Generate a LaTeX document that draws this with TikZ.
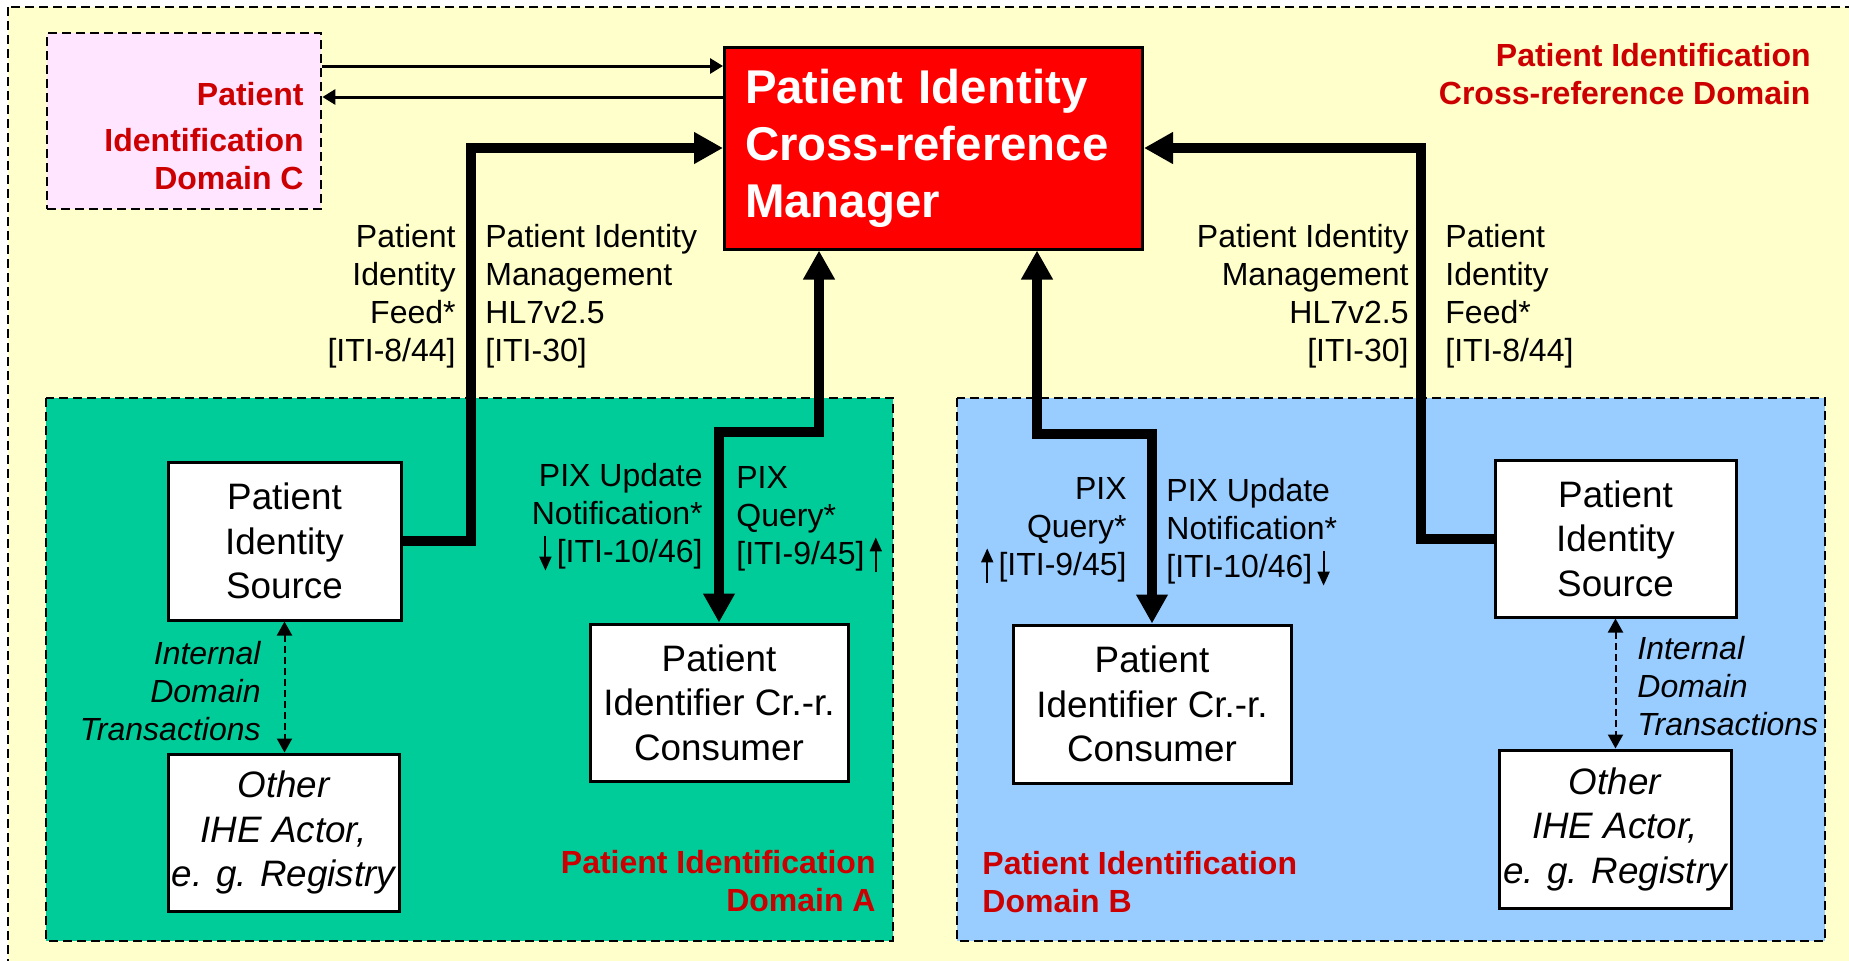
\documentclass[tikz,border=0pt]{standalone}
\usepackage{fontspec}
\setmainfont{Liberation Sans}
\usetikzlibrary{arrows.meta}
\definecolor{xyellow}{HTML}{FFFFCC}
\definecolor{xpink}{HTML}{FFE5FF}
\definecolor{xgreen}{HTML}{00CC99}
\definecolor{xblue}{HTML}{99CCFF}
\definecolor{xred}{HTML}{FF0000}
\definecolor{xdarkred}{HTML}{CC0000}
% small up/down arrows inside the transaction labels
\newcommand{\uparr}{\tikz[x=1pt,y=1pt,baseline=0pt]\draw[line width=1pt,-{Triangle[length=7pt,width=6pt]}] (0,-4) -- (0,13.5);}
\newcommand{\dnarr}{\tikz[x=1pt,y=1pt,baseline=0pt]\draw[line width=1pt,-{Triangle[length=7pt,width=6pt]}] (0,13.5) -- (0,-4);}
\begin{document}
\begin{tikzpicture}[x=0.5pt, y=-0.5pt,
	zone/.style={draw, line width=1.4pt, dash pattern=on 4.5pt off 2.5pt},
	actor/.style={draw, line width=1.5pt, fill=white, inner sep=0pt, align=center, font=\fontsize{18.4pt}{22.25pt}\selectfont},
	actorit/.style={actor, font=\fontsize{18.4pt}{22.25pt}\selectfont\itshape},
	lbl/.style={inner sep=0pt, font=\fontsize{16pt}{19pt}\selectfont},
	lblit/.style={inner sep=0pt, font=\fontsize{16pt}{19pt}\selectfont\itshape},
	domlbl/.style={inner sep=0pt, text=xdarkred, font=\fontsize{16pt}{19pt}\selectfont\bfseries},
	bigarr/.style={line width=5pt, >={Triangle[length=14.5pt,width=15pt]}},
	thinarr/.style={line width=1.5pt, >={Triangle[length=6.5pt,width=7.5pt]}},
	intarr/.style={line width=1pt, dash pattern=on 3.5pt off 2pt, >={Triangle[length=7pt,width=7.5pt]}}]
	\useasboundingbox (0,0) rectangle (1849,960);
	\clip (0,0) rectangle (1849,960);
	\fill[white] (0,0) rectangle (1849,960);
	% domains
	\draw[zone, fill=xyellow] (8,7) rectangle (1880,990);
	\draw[zone, fill=xgreen] (46,398) rectangle (893,941);
	\draw[zone, fill=xblue] (957,398) rectangle (1825,941);
	\node[zone, fill=xpink, minimum width=137pt, minimum height=88pt, inner sep=0pt] (domC) at (184,121) {};
	% actors
	\node[draw, line width=1.5pt, fill=xred, text=white, minimum width=209pt, minimum height=101pt, inner sep=0pt,
		text width=188.5pt, align=left, font=\fontsize{23.7pt}{28.5pt}\selectfont\bfseries] (mgr) at (933.5,148)
		{Patient Identity\\Cross-reference\\Manager};
	\node[actor, minimum width=116.5pt, minimum height=79pt] (srcA) at (284.5,541) {Patient\\Identity\\Source};
	\node[actorit, minimum width=115.5pt, minimum height=78.5pt] (othA) at (283.5,832.5) {Other\\IHE Actor,\\e. g. Registry};
	\node[actor, minimum width=129pt, minimum height=78.5pt] (consA) at (719,702.5) {Patient\\Identifier Cr.-r.\\Consumer};
	\node[actor, minimum width=139pt, minimum height=79pt] (consB) at (1152,704) {Patient\\Identifier Cr.-r.\\Consumer};
	\node[actor, minimum width=120.5pt, minimum height=78.5pt] (srcB) at (1615.5,538.5) {Patient\\Identity\\Source};
	\node[actorit, minimum width=116pt, minimum height=79pt] (othB) at (1615,829) {Other\\IHE Actor,\\e. g. Registry};
	% domain titles
	\node[domlbl, anchor=north east, align=right] (tXref) at (1811,43) {Patient Identification\\Cross-reference Domain};
	\node[domlbl, anchor=north east, align=right] (tC) at (304,82) {Patient\\[4pt]Identification\\Domain C};
	\node[domlbl, anchor=north east, align=right] (tA) at (876,850) {Patient Identification\\Domain A};
	\node[domlbl, anchor=north west, align=left] (tB) at (982,851) {Patient Identification\\Domain B};
	% transaction labels
	\node[lbl, anchor=north east, align=right] (feedA) at (456,224) {Patient\\Identity\\Feed*\\{[ITI-8/44]}};
	\node[lbl, anchor=north west, align=left] (mgmtA) at (485,224) {Patient Identity\\Management\\HL7v2.5\\{[ITI-30]}};
	\node[lbl, anchor=north east, align=right] (mgmtB) at (1409,224) {Patient Identity\\Management\\HL7v2.5\\{[ITI-30]}};
	\node[lbl, anchor=north west, align=left] (feedB) at (1445,224) {Patient\\Identity\\Feed*\\{[ITI-8/44]}};
	\node[lbl, anchor=north east, align=right] (updA) at (703,463) {PIX Update\\Notification*\\\dnarr\,{[ITI-10/46]}};
	\node[lbl, anchor=north west, align=left] (queryA) at (736,466) {PIX\\Query*\\{[ITI-9/45]}\,\uparr};
	\node[lbl, anchor=north east, align=right] (queryB) at (1127,477) {PIX\\Query*\\\uparr\,{[ITI-9/45]}};
	\node[lbl, anchor=north west, align=left] (updB) at (1166,478) {PIX Update\\Notification*\\{[ITI-10/46]}\,\dnarr};
	\node[lblit, anchor=north east, align=right] (intA) at (261,641) {Internal\\Domain\\Transactions};
	\node[lblit, anchor=north west, align=left] (intB) at (1637,636) {Internal\\Domain\\Transactions};
	% connectors
	\coordinate (c1) at ([yshift=27.5pt]domC.east);
	\coordinate (c2) at ([yshift=12pt]domC.east);
	\draw[thinarr,->] (c1) -- (c1 -| mgr.west);
	\draw[thinarr,<-] (c2) -- (c2 -| mgr.west);
	\draw[bigarr,->] (srcA.east) -- ++(68,0) |- (mgr.west);
	\draw[bigarr,<->] (consA.north) -- ++(0,-191) -| ([xshift=48pt]mgr.south west);
	\draw[bigarr,<->] (consB.north) -- ++(0,-190) -| ([xshift=157pt]mgr.south west);
	\draw[bigarr,->] (srcB.west) -- ++(-73,0) |- (mgr.east);
	\draw[intarr,<->] (srcA.south) -- (srcA.south |- othA.north);
	\draw[intarr,<->] (srcB.south) -- (srcB.south |- othB.north);
\end{tikzpicture}
\end{document}
